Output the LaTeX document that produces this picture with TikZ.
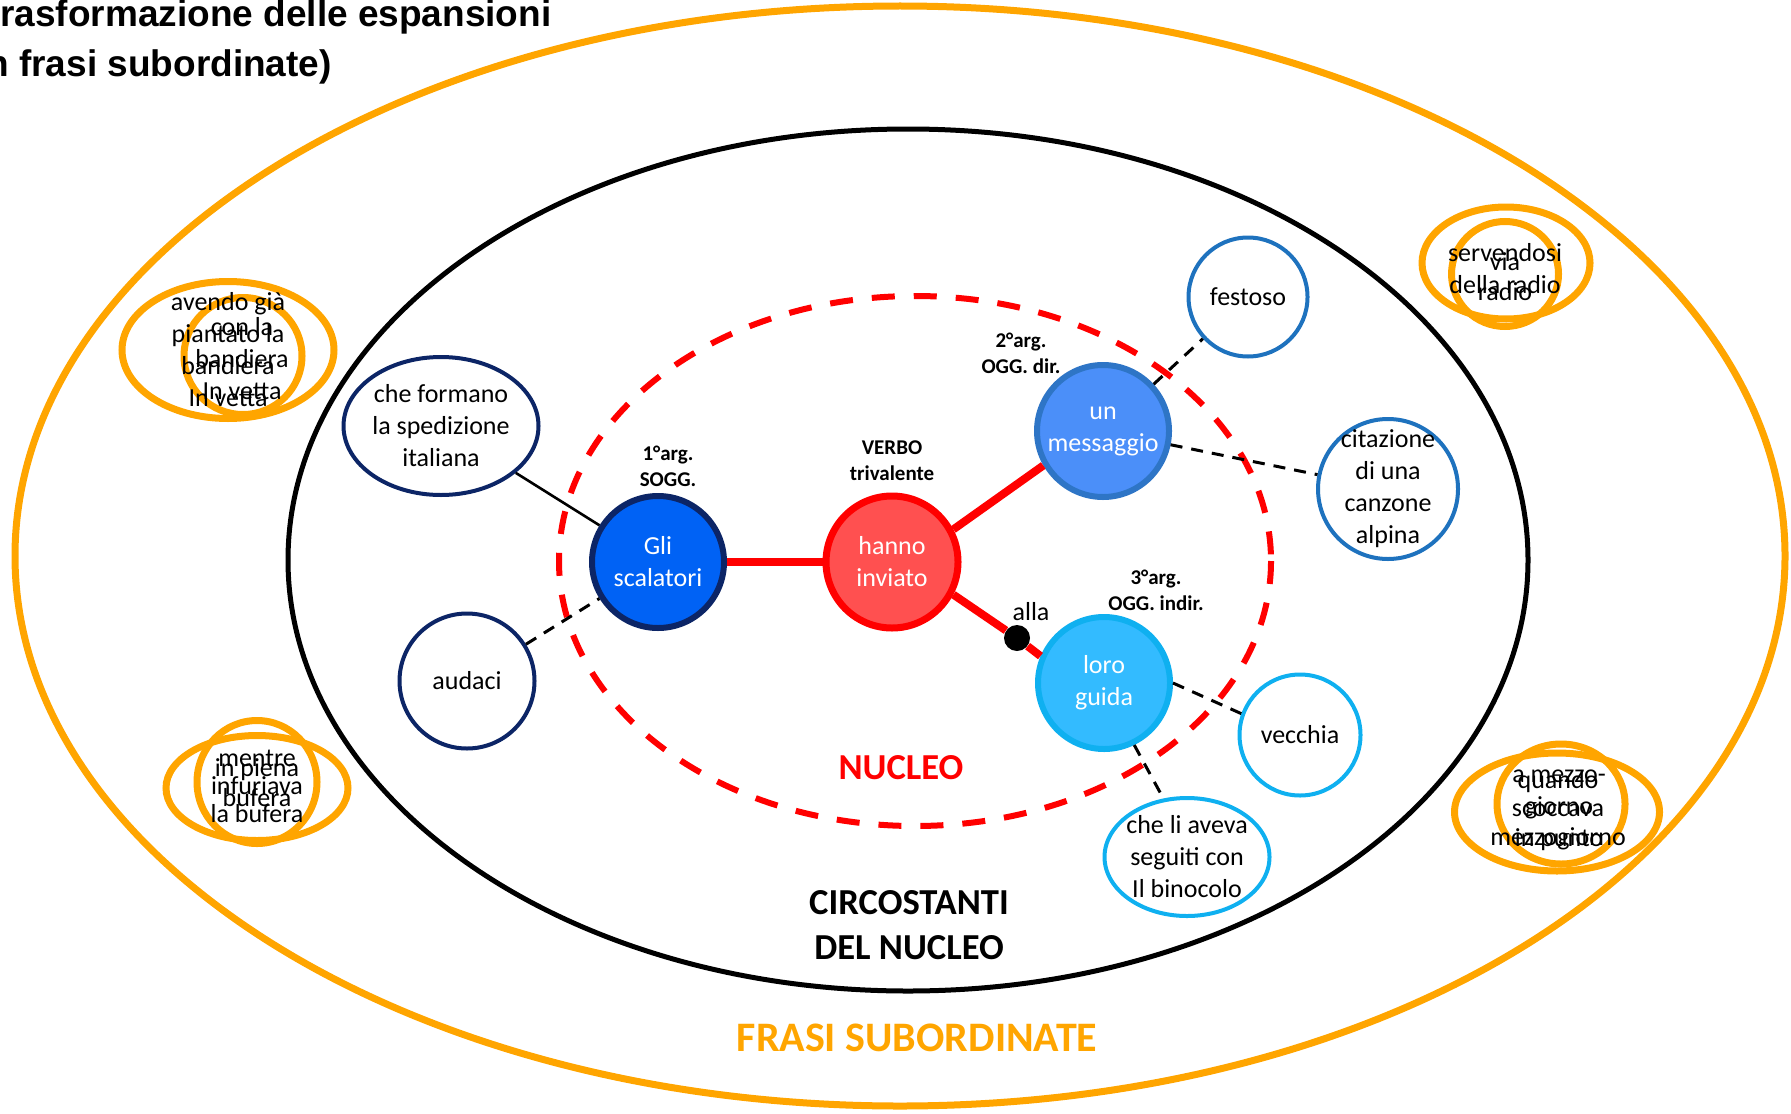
\documentclass[tikz,border=0pt]{standalone}
\usepackage{fontspec}
\setmainfont{Carlito}
\newfontfamily\titlefont{Liberation Sans}
\usetikzlibrary{shapes.geometric}
\definecolor{csubor}{HTML}{FFA500}
\definecolor{cnavy}{HTML}{0C2566}
\definecolor{csogg}{HTML}{0062F5}
\definecolor{cverbo}{HTML}{FF5050}
\definecolor{cogg}{HTML}{4B8FF9}
\definecolor{coggline}{HTML}{2E75C6}
\definecolor{cindir}{HTML}{33BBFF}
\definecolor{cindirline}{HTML}{0FB0F0}
\definecolor{cexp}{HTML}{1E72BE}

\begin{document}
\begin{tikzpicture}[x=0.5pt, y=-0.5pt,
    word/.style={align=center, font=\fontsize{13}{16}\selectfont},
    arg/.style={circle, draw, line width=3pt, inner sep=-15pt,
      minimum size=66pt, text=white, word},
    expa/.style={circle, draw, line width=2pt, inner sep=-15pt,
      fill=white, word},
    role/.style={align=center, font=\bfseries\fontsize{10.5}{13}\selectfont},
    ring/.style={ellipse, draw=csubor, line width=3.5pt, inner sep=0pt},
    big/.style={align=center, font=\bfseries\fontsize{18.3}{22.5}\selectfont}]
  \useasboundingbox (0,0) rectangle (1791,1113);

  \draw[csubor, line width=3.5pt] (900,556) ellipse [x radius=885, y radius=550];
  \draw[line width=2.5pt] (908,560) ellipse [x radius=620, y radius=431];
  \draw[red, line width=3pt, dash pattern=on 11.5pt off 9.5pt]
    (915,561) ellipse [x radius=356, y radius=265];

  \begin{scope}[every node/.style={anchor=base west, inner sep=0pt,
      font=\titlefont\bfseries\fontsize{18.5}{22}\selectfont}]
    \node (t1) at (0,27) {rasformazione delle espansioni};
    \node (t2) at (-14,76) {n frasi subordinate)};
  \end{scope}

  \node[arg, fill=csogg, draw=cnavy] (gli) at (658,562) {Gli\\scalatori};
  \node[arg, fill=cverbo, draw=red, line width=3.5pt] (verbo) at (892,562) {hanno\\inviato};
  \node[arg, fill=cogg, draw=coggline] (msg) at (1103,431) {un\\messaggio};
  \node[arg, fill=cindir, draw=cindirline] (guida) at (1104,683) {loro\\guida};
  \node[circle, fill=black, inner sep=0pt, minimum size=13pt] (dot) at (1017,638) {};

  \node[expa, draw=cexp, minimum size=59.5pt] (festoso) at (1248,297) {festoso};
  \node[expa, draw=cexp, minimum size=70pt] (citaz) at (1388,489)
    {citazione\\di una\\canzone\\alpina};
  \node[expa, draw=cindirline, minimum size=60.5pt] (vecchia) at (1300,735) {vecchia};
  \node[expa, ellipse, draw=cindirline, minimum width=82.5pt, minimum height=59pt]
    (binocolo) at (1187,857) {che li aveva\\seguiti con\\Il binocolo};
  \node[expa, draw=cnavy, minimum size=67.5pt] (audaci) at (467,681) {audaci};
  \node[expa, ellipse, draw=cnavy, minimum width=97.5pt, minimum height=69pt]
    (formano) at (441,426) {che formano\\la spedizione\\italiana};

  \node[role] (r1) at (668,466) {1°arg.\\SOGG.};
  \node[role] (rv) at (892,461) {VERBO\\trivalente};
  \node[role] (r2) at (1021,353) {2°arg.\\OGG. dir.};
  \node[role] (r3) at (1156,590) {3°arg.\\OGG. indir.};
  \node[word] (alla) at (1031,612) {alla};

  \node[big, text=red] (nucleo) at (901,768) {NUCLEO};
  \node[big] (circ) at (909,925) {CIRCOSTANTI\\DEL NUCLEO};
  \node[big, text=csubor, font=\bfseries\fontsize{21}{25}\selectfont]
    (frasi) at (917,1038) {FRASI SUBORDINATE};

  \node[ring, minimum width=106pt, minimum height=68.5pt] (g1a) at (228,350) {};
  \node[ring, minimum width=59pt, minimum height=58.5pt] (g1b) at (243,356) {};
  \node[ring, minimum width=91pt, minimum height=52.5pt] (g2a) at (257,788) {};
  \node[ring, minimum width=60pt, minimum height=61.5pt] (g2b) at (257,782) {};
  \node[ring, minimum width=84pt, minimum height=56pt] (g3a) at (1506,263) {};
  \node[ring, minimum width=53.5pt, minimum height=52.5pt] (g3b) at (1505,274) {};
  \node[ring, minimum width=102.5pt, minimum height=59pt] (g4a) at (1557,812) {};
  \node[ring, minimum width=64pt, minimum height=60pt] (g4b) at (1561,804) {};

  \node[word] (g1at) at (g1a) {avendo già\\piantato la\\bandiera\\In vetta};
  \node[word] (g1bt) at (242,359) {con la\\bandiera\\In vetta};
  \node[word, font=\fontsize{13}{14}\selectfont] (g2at) at (257,786)
    {mentre\\infuriava\\la bufera};
  \node[word, font=\fontsize{13}{15}\selectfont] (g2bt) at (257,783)
    {in piena\\bufera};
  \node[word] (g3at) at (1505,269) {servendosi\\della radio};
  \node[word, font=\fontsize{13}{15}\selectfont] (g3bt) at (1505,277) {via\\radio};
  \node[word, font=\fontsize{13}{14.25}\selectfont] (g4at) at (1558,810)
    {quando\\scoccava\\mezzogiorno};
  \node[word] (g4bt) at (1559,810) {a mezzo-\\giorno\\in punto};

  \begin{scope}[red, line width=4pt]
    \draw (gli) to (verbo);
    \draw (verbo.28) to (msg.210);
    \draw (verbo.-28) to (dot);
    \draw (dot) to (guida.157);
  \end{scope}
  \begin{scope}[line width=1.5pt, dash pattern=on 6pt off 4.5pt]
    \draw (audaci) to (gli);
    \draw (msg) to (festoso);
    \draw (msg) to (citaz);
    \draw (guida.0) to (vecchia.160);
    \draw (guida.-64) to (binocolo.112);
  \end{scope}
  \draw[line width=1.3pt] (formano) to (gli);
\end{tikzpicture}
\end{document}
